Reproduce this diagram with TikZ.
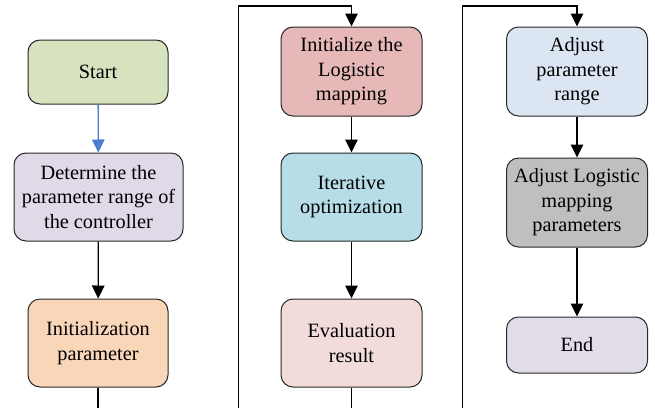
\documentclass[tikz,border=0pt]{standalone}
\usepackage{fontspec}
\setmainfont{Liberation Serif}
\usetikzlibrary{arrows.meta}
\definecolor{cStart}{RGB}{215,227,190}
\definecolor{cDet}{RGB}{224,217,232}
\definecolor{cInitP}{RGB}{250,214,185}
\definecolor{cInit}{RGB}{230,185,184}
\definecolor{cIter}{RGB}{183,221,232}
\definecolor{cEval}{RGB}{242,220,219}
\definecolor{cAdjP}{RGB}{220,230,242}
\definecolor{cAdjL}{RGB}{191,191,191}
\definecolor{cEnd}{RGB}{225,220,232}
\definecolor{cBlue}{RGB}{74,126,205}
\definecolor{cEdge}{RGB}{40,40,40}
\begin{document}
\begin{tikzpicture}[x=1pt,y=-1pt,
  box/.style={draw=cEdge,line width=1pt,rounded corners=12pt,align=center,
    inner sep=0pt,font=\fontsize{20.3pt}{24.5pt}\selectfont},
  arr/.style={line width=1.3pt,-{Triangle[length=13pt,width=12.5pt]}},
  ln/.style={line width=1.3pt}]
\useasboundingbox (0,0) rectangle (655,407);
\node[box,fill=cStart,minimum width=140pt,minimum height=64pt] (start) at (98,72) {Start};
\node[box,fill=cDet,minimum width=169pt,minimum height=88pt] (det) at (98.5,197) {Determine the\\parameter range of\\the controller};
\node[box,fill=cInitP,minimum width=140pt,minimum height=88pt] (initp) at (98,343) {Initialization\\parameter};
\node[box,fill=cInit,minimum width=141pt,minimum height=89pt] (init) at (351.5,71.5) {Initialize the\\Logistic\\mapping};
\node[box,fill=cIter,minimum width=141pt,minimum height=88pt] (iter) at (351.5,197) {Iterative\\optimization};
\node[box,fill=cEval,minimum width=141pt,minimum height=88pt] (eval) at (351.5,343) {Evaluation\\result};
\node[box,fill=cAdjP,minimum width=141pt,minimum height=89pt] (adjp) at (577,71.5) {Adjust\\parameter\\range};
\node[box,fill=cAdjL,minimum width=141pt,minimum height=89pt] (adjl) at (577,202.5) {Adjust Logistic\\mapping\\parameters};
\node[box,fill=cEnd,minimum width=141pt,minimum height=56pt] (end) at (577,345) {End};
\coordinate (o1) at (98,408);
\coordinate (o2) at (351.5,408);
\coordinate (i2a) at (238.7,408);
\coordinate (i2b) at (238.7,6);
\coordinate (i2c) at (351.5,6);
\coordinate (i3a) at (462.3,408);
\coordinate (i3b) at (462.3,6);
\coordinate (i3c) at (577,6);
\draw[arr,draw=cBlue,fill=cBlue] (start) -- (det);
\draw[arr] (det) -- (initp);
\draw[ln] (initp) -- (o1);
\draw[arr] (i2a) -- (i2b) -- (i2c) -- (init);
\draw[arr] (init) -- (iter);
\draw[arr] (iter) -- (eval);
\draw[ln] (eval) -- (o2);
\draw[arr] (i3a) -- (i3b) -- (i3c) -- (adjp);
\draw[arr] (adjp) -- (adjl);
\draw[arr] (adjl) -- (end);
\end{tikzpicture}
\end{document}
